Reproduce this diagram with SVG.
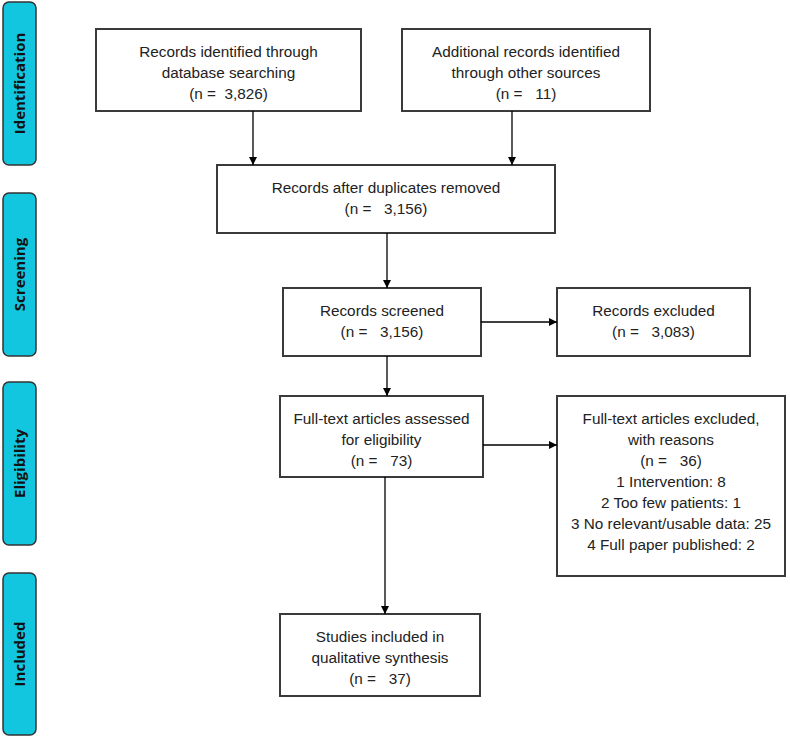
<svg xmlns="http://www.w3.org/2000/svg" width="790" height="738" viewBox="0 0 790 738">
<defs>
<marker id="ah" viewBox="0 0 10 10" refX="10" refY="5" markerWidth="8" markerHeight="8" markerUnits="userSpaceOnUse" orient="auto">
<path d="M0,0 L10,5 L0,10 z" fill="#000"/>
</marker>
</defs>
<style>
.box{fill:#fff;stroke:#3a3a3a;stroke-width:2}
.phase{fill:#12c6e0;stroke:#333;stroke-width:1.5}
.t{font-family:"Liberation Sans",Arial,sans-serif;font-size:15.3px;fill:#222;text-anchor:middle;white-space:pre}
.pt{font-family:"Open Sans","Noto Sans",sans-serif;font-size:15px;font-weight:bold;fill:#111;text-anchor:middle}
.c{stroke:#000;stroke-width:1.3;fill:none;marker-end:url(#ah)}
</style>
<rect width="790" height="738" fill="#fff"/>
<g id="phase-identification"><rect class="phase" x="3" y="2" width="33" height="163" rx="6"/><text class="pt" transform="translate(24.5,83.5) rotate(-90)">Identification</text></g>
<g id="phase-screening"><rect class="phase" x="3" y="193" width="33" height="163" rx="6"/><text class="pt" transform="translate(24.5,274.5) rotate(-90)">Screening</text></g>
<g id="phase-eligibility"><rect class="phase" x="3" y="382" width="33" height="163" rx="6"/><text class="pt" transform="translate(24.5,463.5) rotate(-90)">Eligibility</text></g>
<g id="phase-included"><rect class="phase" x="3" y="573" width="33" height="162" rx="6"/><text class="pt" transform="translate(24.5,654) rotate(-90)">Included</text></g>

<g id="n1"><rect class="box" x="96" y="29" width="265" height="82"/>
<text class="t" x="228.5" y="57">Records identified through</text>
<text class="t" x="228.5" y="78">database searching</text>
<text class="t" x="228.5" y="99" xml:space="preserve">(n =  3,826)</text></g>
<g id="n2"><rect class="box" x="402" y="29" width="248" height="82"/>
<text class="t" x="526" y="57">Additional records identified</text>
<text class="t" x="526" y="78">through other sources</text>
<text class="t" x="526" y="99" xml:space="preserve">(n =   11)</text></g>
<g id="n3"><rect class="box" x="217" y="165" width="338" height="68"/>
<text class="t" x="386" y="193">Records after duplicates removed</text>
<text class="t" x="386" y="214" xml:space="preserve">(n =   3,156)</text></g>
<g id="n4"><rect class="box" x="283" y="288" width="198" height="68"/>
<text class="t" x="382" y="316">Records screened</text>
<text class="t" x="382" y="337" xml:space="preserve">(n =   3,156)</text></g>
<g id="n5"><rect class="box" x="557" y="288" width="193" height="68"/>
<text class="t" x="653.5" y="316">Records excluded</text>
<text class="t" x="653.5" y="337" xml:space="preserve">(n =   3,083)</text></g>
<g id="n6"><rect class="box" x="280" y="396" width="203" height="81"/>
<text class="t" x="381.5" y="424">Full-text articles assessed</text>
<text class="t" x="381.5" y="445">for eligibility</text>
<text class="t" x="381.5" y="466" xml:space="preserve">(n =   73)</text></g>
<g id="n7"><rect class="box" x="557" y="396" width="228" height="180"/>
<text class="t" x="671" y="424">Full-text articles excluded,</text>
<text class="t" x="671" y="445">with reasons</text>
<text class="t" x="671" y="466" xml:space="preserve">(n =   36)</text>
<text class="t" x="671" y="487">1 Intervention: 8</text>
<text class="t" x="671" y="508">2 Too few patients: 1</text>
<text class="t" x="671" y="529">3 No relevant/usable data: 25</text>
<text class="t" x="671" y="550">4 Full paper published: 2</text></g>
<g id="n8"><rect class="box" x="280" y="614" width="200" height="82"/>
<text class="t" x="380" y="642">Studies included in</text>
<text class="t" x="380" y="663">qualitative synthesis</text>
<text class="t" x="380" y="684" xml:space="preserve">(n =   37)</text></g>

<g id="connectors">
<path class="c" d="M253,111 V165"/>
<path class="c" d="M512,111 V165"/>
<path class="c" d="M387,233 V288"/>
<path class="c" d="M481,322 H557"/>
<path class="c" d="M387,356 V396"/>
<path class="c" d="M483,445 H557"/>
<path class="c" d="M385,477 V614"/>
</g>
</svg>
